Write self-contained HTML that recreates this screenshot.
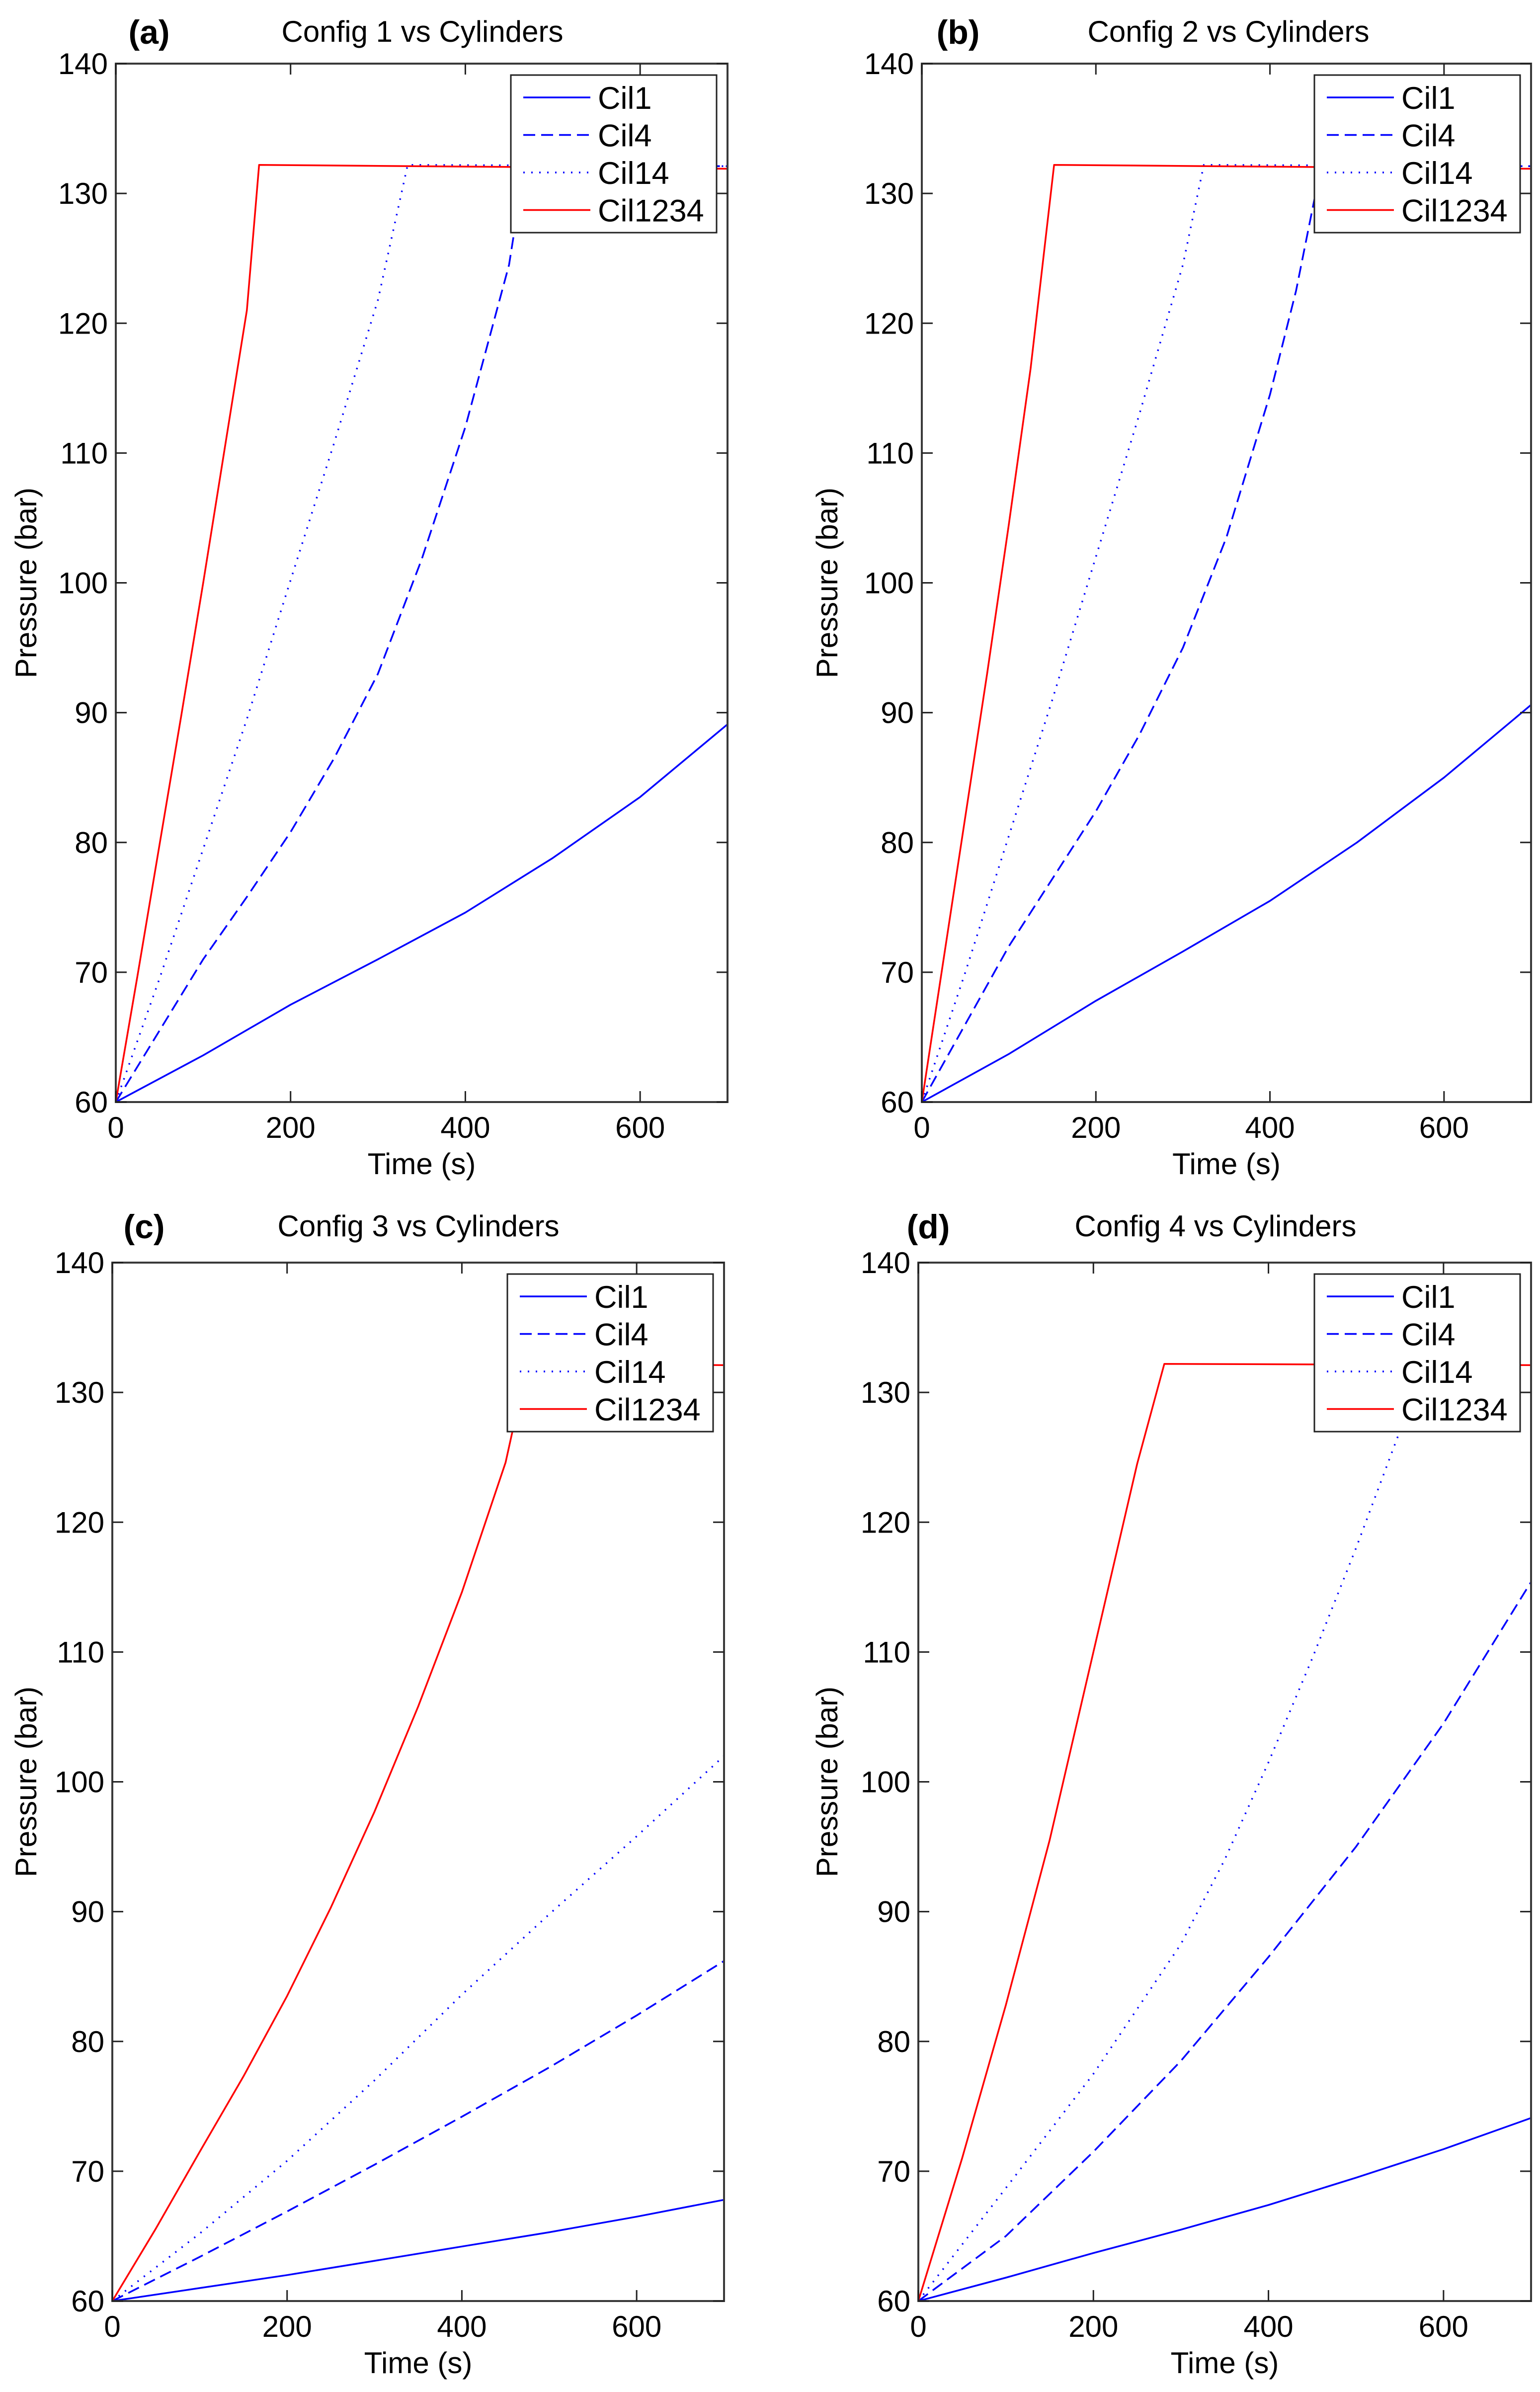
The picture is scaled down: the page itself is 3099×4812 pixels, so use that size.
<!DOCTYPE html>
<html><head><meta charset="utf-8">
<style>
html,body{margin:0;padding:0;background:#fff;}
svg{display:block;}
text{font-family:"Liberation Sans",Arial,sans-serif;fill:#000;}
</style></head>
<body>
<svg id="fig" width="3099" height="4812" viewBox="0 0 3099 4812" xmlns="http://www.w3.org/2000/svg"></svg>
<script>
const xTicks = [0, 200, 400, 600];
const yTicks = [60, 70, 80, 90, 100, 110, 120, 130, 140];
const seriesNames = ["Cil1", "Cil4", "Cil14", "Cil1234"];
const panelTitles = ["Config 1 vs Cylinders", "Config 2 vs Cylinders", "Config 3 vs Cylinders", "Config 4 vs Cylinders"];
const panelLetters = ["(a)", "(b)", "(c)", "(d)"];

// panel a
const aCil1T = [0,100,200,300,400,500,600,700];
const aCil1V = [60,63.6,67.5,71,74.6,78.8,83.5,89.1];
const aCil4T = [0,50,100,150,200,250,300,350,400,450,468,700];
const aCil4V = [60,65.5,71,75.8,80.8,86.5,93,101.8,112,124.5,132.2,132.1];
const aCil14T = [0,50,100,150,200,250,300,334,700];
const aCil14V = [60,69.5,79.5,89.5,100.2,110.8,121.8,132.2,132.1];
const aCil1234T = [0,25,50,75,100,125,150,164,700];
const aCil1234V = [60,69.8,79.8,89.8,100,110.5,121,132.2,131.9];
// panel b
const bCil1T = [0,100,200,300,400,500,600,700];
const bCil1V = [60,63.7,67.8,71.6,75.5,80,85,90.6];
const bCil4T = [0,50,100,150,200,250,300,350,400,430,459,700];
const bCil4V = [60,66,72,77.2,82.4,88.3,95,103.5,114.5,122.5,132.2,132.1];
const bCil14T = [0,50,100,150,200,250,300,324,700];
const bCil14V = [60,70,80.5,91,102,113,124.5,132.2,132.1];
const bCil1234T = [0,25,50,75,100,125,152,700];
const bCil1234V = [60,71,82,93,104.5,116.5,132.2,131.9];
// panel c
const cCil1T = [0,100,200,300,400,500,600,700];
const cCil1V = [60,61,62,63.1,64.2,65.3,66.5,67.8];
const cCil4T = [0,100,200,300,400,500,600,700];
const cCil4V = [60,63.4,66.9,70.5,74.2,78,82,86.2];
const cCil14T = [0,100,200,300,400,500,600,700];
const cCil14V = [60,65.2,70.8,77,83.6,89.8,95.8,102];
const cCil1234T = [0,50,100,150,200,250,300,350,400,450,475,700];
const cCil1234V = [60,65.6,71.5,77.3,83.5,90.3,97.7,105.8,114.6,124.6,132.2,132.1];
// panel d
const dCil1T = [0,100,200,300,400,500,600,700];
const dCil1V = [60,61.8,63.7,65.5,67.4,69.5,71.7,74.1];
const dCil4T = [0,100,200,300,400,500,600,700];
const dCil4V = [60,65,71.5,78.5,86.5,95,104.5,115.4];
const dCil14T = [0,100,200,300,350,400,450,500,550,565,700];
const dCil14V = [60,68.7,77.5,87.5,94,101.5,109.5,118,127,132.2,132.1];
const dCil1234T = [0,50,100,150,200,250,281,700];
const dCil1234V = [60,71,82.8,95.5,110,124.5,132.2,132.1];

const panelData = [
  [[aCil1T,aCil1V],[aCil4T,aCil4V],[aCil14T,aCil14V],[aCil1234T,aCil1234V]],
  [[bCil1T,bCil1V],[bCil4T,bCil4V],[bCil14T,bCil14V],[bCil1234T,bCil1234V]],
  [[cCil1T,cCil1V],[cCil4T,cCil4V],[cCil14T,cCil14V],[cCil1234T,cCil1234V]],
  [[dCil1T,dCil1V],[dCil4T,dCil4V],[dCil14T,dCil14V],[dCil1234T,dCil1234V]]
];

const boxes = [
  {L:233,R:1464,T:128,B:2217,ylx:52,tcx:850,lx:300,ty:84},
  {L:1855,R:3081,T:128,B:2217,ylx:1664,tcx:2472,lx:1928,ty:84},
  {L:226,R:1457,T:2540,B:4629,ylx:52,tcx:842,lx:290,ty:2487},
  {L:1848,R:3081,T:2540,B:4629,ylx:1664,tcx:2446,lx:1868,ty:2487}
];
const styles = [
  {c:"#0000ff",d:""},
  {c:"#0000ff",d:"24 12"},
  {c:"#0000ff",d:"3 13"},
  {c:"#ff0000",d:""}
];
const NS="http://www.w3.org/2000/svg";
const svg=document.getElementById('fig');
function mk(tag,attrs,parent){const e=document.createElementNS(NS,tag);for(const k in attrs)e.setAttribute(k,attrs[k]);(parent||svg).appendChild(e);return e;}

boxes.forEach((b,p)=>{
  const g=mk('g',{});
  
  
  const xs=t=>b.L+(t/700)*(b.R-b.L);
  const ys=v=>b.B-((v-60)/80)*(b.B-b.T);
  const tt=mk('text',{x:b.tcx,y:b.ty,'font-size':60,'text-anchor':'middle'},g);tt.textContent=panelTitles[p];
  
  
  const lt=mk('text',{x:b.lx,y:b.ty+4,'font-size':68,'font-weight':'bold','text-anchor':'middle'},g);lt.textContent=panelLetters[p];
  
  
  const cp=mk('clipPath',{id:'clip'+p},g);mk('rect',{x:b.L,y:b.T-6,width:b.R-b.L,height:b.B-b.T+6},cp);
  const sg=mk('g',{'clip-path':'url(#clip'+p+')'},g);
  panelData[p].forEach((sd,s)=>{
    const pts=sd[0].map((t,i)=>xs(t).toFixed(1)+','+ys(sd[1][i]).toFixed(1)).join(' ');
    const pl=mk('polyline',{points:pts,fill:'none',stroke:styles[s].c,'stroke-width':3.5,'stroke-dasharray':styles[s].d,'stroke-linejoin':'round'},sg);
    
    
  });
  const fr=mk('rect',{x:b.L,y:b.T,width:b.R-b.L,height:b.B-b.T,fill:'none',stroke:'#3a3a3a','stroke-width':4},g);
  
  
  xTicks.forEach(t=>{
    const x=xs(t);
    mk('line',{x1:x,y1:b.B,x2:x,y2:b.B-22,stroke:'#222','stroke-width':3},g);
    mk('line',{x1:x,y1:b.T,x2:x,y2:b.T+22,stroke:'#222','stroke-width':3},g);
    const tl=mk('text',{x:x,y:b.B+72,'font-size':60,'text-anchor':'middle'},g);tl.textContent=t;
    
    
  });
  yTicks.forEach(v=>{
    const y=ys(v);
    mk('line',{x1:b.L,y1:y,x2:b.L+22,y2:y,stroke:'#222','stroke-width':3},g);
    mk('line',{x1:b.R,y1:y,x2:b.R-22,y2:y,stroke:'#222','stroke-width':3},g);
    const tl=mk('text',{x:b.L-16,y:y+21,'font-size':60,'text-anchor':'end'},g);tl.textContent=v;
    
    
  });
  const xl=mk('text',{x:(b.L+b.R)/2,y:b.B+145,'font-size':60,'text-anchor':'middle'},g);xl.textContent='Time (s)';
  
  
  const cy=(b.T+b.B)/2;
  const yl=mk('text',{x:b.ylx,y:cy,'font-size':60,'text-anchor':'middle',transform:'rotate(-90 '+b.ylx+' '+cy+')',dy:21},g);yl.textContent='Pressure (bar)';
  
  
  const lg=mk('g',{},g);
  
  
  const lx=b.R-436, ly=b.T+23;
  mk('rect',{x:lx,y:ly,width:414,height:317,fill:'#fff',stroke:'#222','stroke-width':3},lg);
  seriesNames.forEach((n,s)=>{
    const ey=ly+45+s*75.5;
    const e=mk('g',{},lg);
    
    
    mk('line',{x1:lx+25,y1:ey,x2:lx+160,y2:ey,stroke:styles[s].c,'stroke-width':3.5,'stroke-dasharray':styles[s].d},e);
    const et=mk('text',{x:lx+175,y:ey+23,'font-size':63},e);et.textContent=n;
  });
});
</script>
</body></html>
